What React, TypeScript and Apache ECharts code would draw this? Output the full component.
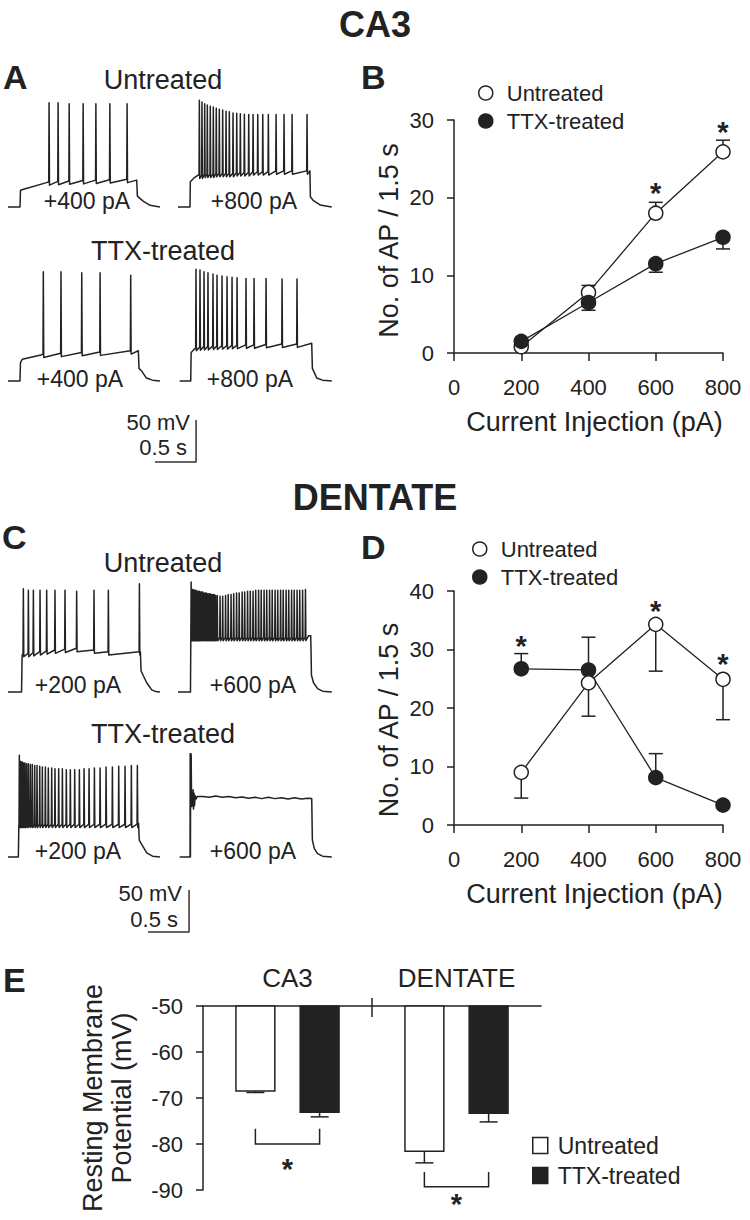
import React, { useEffect, useRef } from 'react';
import * as echarts from 'echarts';

const FONT = '"Liberation Sans", Arial, Helvetica, sans-serif';
const INK = '#222222';

// ---------- Panel B (CA3) : number of APs vs current ----------
const currentSteps = [200, 400, 600, 800];
const ca3Untreated = [0.8, 7.8, 18.0, 25.9];
const ca3UntreatedSem = [0.3, 0.9, 1.4, 1.5];
const ca3Ttx = [1.5, 6.5, 11.5, 14.9];
const ca3TtxSem = [0.3, 1.0, 1.1, 1.5];
const ca3Stars = [[600, 21.4], [800, 29.3]];

// ---------- Panel D (Dentate) ----------
const dgUntreated = [9.0, 24.3, 34.3, 24.9];
const dgUntreatedSem = [4.4, 5.7, 8.0, 6.9];
const dgTtx = [26.7, 26.5, 8.1, 3.4];
const dgTtxSem = [2.6, 5.6, 4.1, 0.4];
const dgStars = [[200, 31.8], [600, 37.8], [800, 28.7]];

// ---------- Panel E : resting membrane potential ----------
const rmpRegions = ['CA3', 'DENTATE'];
const rmpBaseline = -50;
const rmpUntreated = [-68.5, -81.6];
const rmpUntreatedSem = [0.3, 2.5];
const rmpTtx = [-73.1, -73.3];
const rmpTtxSem = [1.0, 1.9];
const rmpBracketTop = [-76.7, -86.1];
const rmpBracketBottom = [-80.0, -89.3];
const rmpStar = [-83.9, -91.7];

// ---------- Example traces (time ms, membrane potential mV) ----------
const ca3UntreatedTrace400 = {
  head: [[0, -70], [146, -70], [152, -50], [200, -48.5], [470, -41]],
  spikes: [500, 610, 745, 915, 1070, 1240, 1450],
  peaks: [54, 54, 53, 53, 53, 53, 53],
  troughs: [-40, -39.5, -39, -38.5, -38, -37.5, -37],
  tail: [[1567, -38], [1575, -57], [1645, -63], [1730, -68], [1850, -70]],
};
const ca3UntreatedTrace800 = {
  head: [[0, -70], [146, -70], [150, -40], [200, -35], [245, -32]],
  spikes: [260, 292, 325, 357, 393, 430, 466, 503, 544, 585, 625, 670, 715, 759, 808, 861, 914, 971, 1032, 1100, 1194, 1291, 1389, 1571],
  peaks: [57, 55, 53, 51.5, 50, 49, 47.5, 46.5, 45.5, 44, 43.5, 42, 41.5, 41, 40.5, 40, 40, 40, 40, 40, 40, 40, 40, 40],
  troughs: [-32, -32, -31, -31, -31, -31, -30, -30, -30, -30, -30, -30, -29, -29, -29, -29, -28, -28, -28, -28, -27, -27, -27, -27],
  tail: [[1606, -27], [1612, -58], [1645, -62], [1730, -67.5], [1872, -70]],
};
const ca3TtxTrace400 = {
  head: [[0, -70], [146, -70], [152, -48], [175, -44], [400, -39]],
  spikes: [430, 645, 898, 1121, 1494],
  peaks: [60, 60, 59, 59, 56],
  troughs: [-38, -37, -36, -35.5, -34],
  tail: [[1587, -34], [1595, -55], [1627, -58], [1685, -66.5], [1760, -69], [1850, -70]],
};
const ca3TtxTrace800 = {
  head: [[20, -70], [155, -70], [160, -36], [190, -33], [212, -31]],
  spikes: [219, 268, 317, 365, 426, 475, 536, 597, 658, 719, 828, 926, 1072, 1267, 1449],
  peaks: [63, 62, 60, 59, 57.5, 56, 55, 54, 53.5, 53, 52, 52, 52, 51.5, 51.5],
  troughs: [-30, -29.5, -29, -29, -28.5, -28.5, -28, -28, -27.5, -27.5, -27, -27, -26.5, -26, -26],
  tail: [[1628, -25], [1636, -55], [1660, -60], [1689, -66.5], [1760, -69], [1872, -70]],
};
const dgUntreatedTrace200 = {
  head: [[0, -70], [165, -70], [172, -26], [180, -25]],
  spikes: [187, 248, 309, 390, 471, 572, 694, 836, 1047, 1222, 1600],
  peaks: [53, 51, 51, 51, 51, 51, 51, 50, 51, 51, 59],
  troughs: [-24, -24, -23, -22, -21, -20, -19, -18, -20, -22, -22],
  tail: [[1612, -22], [1620, -45], [1689, -59], [1750, -67.5], [1800, -69.5], [1850, -70]],
};
const dgUntreatedTrace600 = {
  head: [[0, -70], [152, -70]],
  spikes: [160, 172, 184, 196, 208, 220, 233, 246, 259, 272, 286, 300, 314, 329, 344, 359, 375, 391, 407, 424, 441, 458,
    478, 512, 544, 579, 611, 646, 678, 713, 745, 781, 812, 847, 880, 914, 946, 981, 1013, 1048, 1080, 1115, 1147, 1182,
    1214, 1249, 1281, 1316, 1348, 1383, 1415, 1450, 1482, 1517, 1552],
  peaks: [61, 52, 52, 51, 51, 51, 50, 50, 50, 49, 49, 49, 48, 48, 48, 47, 47, 47, 46, 46, 46, 45,
    45, 44, 44, 45, 46, 46, 47, 48, 48, 49, 49, 50, 50, 50, 51, 51, 51, 51, 51, 51, 51, 51,
    51, 51, 51, 51, 51, 51, 51, 51, 51, 51, 52],
  troughs: -5,
  tail: [[1590, -3], [1616, -3], [1625, -50], [1650, -59], [1700, -66], [1760, -69], [1872, -70]],
};
const dgTtxTrace200 = {
  head: [[0, -70], [126, -70], [132, -32]],
  spikes: [138, 150, 162, 175, 191, 207, 227, 248, 272, 296, 325, 353, 386, 418, 455, 491, 532, 572, 617, 662, 710,
    759, 812, 869, 926, 987, 1052, 1121, 1194, 1271, 1348, 1425, 1502, 1575],
  peaks: [51, 44, 43, 43, 42, 42, 41, 41, 40, 40, 39, 39, 38, 37, 37, 36, 36, 35, 35, 35, 34,
    34, 34, 34, 35, 35, 36, 36, 37, 37, 38, 38, 39, 39],
  troughs: -31,
  tail: [[1590, -30], [1598, -50], [1628, -55], [1689, -65], [1760, -69], [1850, -70]],
};
// TTX-treated +600 pA: one spike at current onset, damped ringing, then a flat depolarised plateau
const dgTtxTrace600 = {
  head: [[20, -70], [150, -70], [152, 53], [160, 51], [166, -10], [174, 6]],
  spikes: [184, 196],
  peaks: [10, 6],
  troughs: [-9, -5],
  tail: [[210, 3], [220, -1], [234, 2], [300, 2], [380, 1], [460, 2.5],
    [540, 1], [620, 2], [700, 0.5], [780, 1.5], [860, 0], [940, 1], [1020, -0.5], [1100, 1], [1180, -0.5],
    [1260, 0.5], [1340, -1], [1420, 0.5], [1500, -1], [1580, 0], [1628, -0.5], [1636, -50], [1660, -60],
    [1700, -66], [1760, -69], [1872, -70]],
};
// the onset action potential of that trace, also drawn as its own stroke
const dgTtx600OnsetSpike = [[150, -70], [151, 53], [155, 53], [163, -8]];

const traces = [
  ca3UntreatedTrace400, ca3UntreatedTrace800, ca3TtxTrace400, ca3TtxTrace800,
  dgUntreatedTrace200, dgUntreatedTrace600, dgTtxTrace200, dgTtxTrace600,
];
const scaleBarMs = 500;
const scaleBarMv = 50;

// layout (pixels): trace frames span -80..+120 mV (0.84 px/mV) and 0..1875 ms (154 px)
const traceGridPos = [
  { left: 8, top: 47.4 }, { left: 178, top: 47.4 },
  { left: 8, top: 221.4 }, { left: 178, top: 221.4 },
  { left: 8, top: 532.4 }, { left: 178, top: 532.4 },
  { left: 8, top: 697.4 }, { left: 178, top: 697.4 },
];
const scaleGridPos = [{ left: 155, top: 420 }, { left: 148, top: 890 }];

type Trace = { head: number[][]; spikes: number[]; peaks: number[]; troughs: number[] | number; tail: number[][] };

function traceLine(tr: Trace) {
  const pts: number[][] = tr.head.map((p) => [p[0], p[1]]);
  tr.spikes.forEach((t, i) => {
    const tro = Array.isArray(tr.troughs) ? tr.troughs[i] : tr.troughs;
    pts.push([t - 4, tro]);
    pts.push([t, tr.peaks[i]]);
    pts.push([t + 5, tro - 4]);
  });
  tr.tail.forEach((p) => pts.push([p[0], p[1]]));
  return pts;
}

const axisCommon = {
  axisLine: { show: true, onZero: false, lineStyle: { color: INK, width: 1.5 } },
  axisTick: { show: true, length: 8, lineStyle: { color: INK, width: 1.5 } },
  splitLine: { show: false },
};

function errRender(dir: number) {
  return (params: any, api: any) => {
    const x = api.value(0);
    const y = api.value(1);
    const e = api.value(2);
    const p0 = api.coord([x, y]);
    const p1 = api.coord([x, y + dir * e]);
    return {
      type: 'group',
      children: [
        { type: 'line', shape: { x1: p0[0], y1: p0[1], x2: p1[0], y2: p1[1] }, style: { stroke: INK, lineWidth: 1.5 } },
        { type: 'line', shape: { x1: p1[0] - 7, y1: p1[1], x2: p1[0] + 7, y2: p1[1] }, style: { stroke: INK, lineWidth: 1.5 } },
      ],
    };
  };
}

// draws a polyline through data points given as [t, mV] (one item = one vertex)
function spikeRender(params: any, api: any) {
  if (params.dataIndex !== 0) return null;
  const pts = dgTtx600OnsetSpike.map((p) => api.coord(p));
  return { type: 'polyline', shape: { points: pts }, style: { stroke: INK, lineWidth: 1.6, fill: 'none' } };
}

const STAR_SIZE = 29;
function starEl(x: number, y: number) {
  return {
    type: 'text', x, y: y + STAR_SIZE * 0.23,
    style: { text: '*', fontSize: STAR_SIZE, fontWeight: 'bold', fontFamily: FONT, fill: INK, align: 'center', verticalAlign: 'middle' },
  };
}

function starRender(params: any, api: any) {
  const p = api.coord([api.value(0), api.value(1)]);
  return starEl(p[0], p[1]);
}

function barRender(side: number, fill: string) {
  return (params: any, api: any) => {
    const cat = api.value(0);
    const mean = api.value(1);
    const sem = api.value(2);
    const band = api.size([1, 0])[0];
    const base = api.coord([cat, rmpBaseline]);
    const cx = base[0] + side * band * 0.19;
    const w = band * 0.23;
    const yb = api.coord([cat, mean])[1];
    const ye = api.coord([cat, mean - sem])[1];
    return {
      type: 'group',
      children: [
        { type: 'line', shape: { x1: cx, y1: yb, x2: cx, y2: ye }, style: { stroke: INK, lineWidth: 1.5 } },
        { type: 'line', shape: { x1: cx - 9, y1: ye, x2: cx + 9, y2: ye }, style: { stroke: INK, lineWidth: 1.5 } },
        { type: 'rect', shape: { x: cx - w / 2, y: base[1], width: w, height: yb - base[1] }, style: { fill, stroke: INK, lineWidth: 1.5 } },
      ],
    };
  };
}

function sigRender(params: any, api: any) {
  const cat = api.value(0);
  const band = api.size([1, 0])[0];
  const c = api.coord([cat, api.value(1)]);
  const yBot = api.coord([cat, api.value(2)])[1];
  const yStar = api.coord([cat, api.value(3)])[1];
  const xL = c[0] - 0.19 * band;
  const xR = c[0] + 0.19 * band;
  const children: any[] = [
    { type: 'polyline', shape: { points: [[xL, c[1]], [xL, yBot], [xR, yBot], [xR, c[1]]] }, style: { stroke: INK, lineWidth: 1.5, fill: 'none' } },
    starEl(c[0], yStar),
  ];
  if (params.dataIndex === 0) {
    const yAxisTop = api.coord([cat, rmpBaseline])[1];
    const xs = c[0] + band / 2;
    children.push({ type: 'line', shape: { x1: xs, y1: yAxisTop - 8, x2: xs, y2: yAxisTop + 11 }, style: { stroke: INK, lineWidth: 1.5 } });
  }
  return { type: 'group', children };
}

function txt(text: string, x: number, y: number, size: number, opts: any = {}) {
  return {
    type: 'text',
    x,
    y,
    style: {
      text,
      fontSize: size,
      fontFamily: FONT,
      fontWeight: opts.bold ? 'bold' : 'normal',
      fill: INK,
      align: opts.align || 'center',
      verticalAlign: 'middle',
    },
  };
}

export default function App() {
  const ref = useRef<HTMLDivElement>(null);
  useEffect(() => {
    if (!ref.current) return;
    const chart = echarts.init(ref.current, null, { renderer: 'svg' });

    const grid: any[] = [];
    const xAxis: any[] = [];
    const yAxis: any[] = [];
    const series: any[] = [];

    traceGridPos.forEach((g, i) => {
      grid.push({ left: g.left, top: g.top, width: 154, height: 168 });
      xAxis.push({ gridIndex: i, type: 'value', min: 0, max: 1875, show: false });
      yAxis.push({ gridIndex: i, type: 'value', min: -80, max: 120, show: false });
      series.push({
        type: 'line', xAxisIndex: i, yAxisIndex: i, data: traceLine(traces[i] as Trace), showSymbol: false,
        symbol: 'none', clip: false, large: false, lineStyle: { color: INK, width: 1.5, join: 'round' }, silent: true, z: 3,
      });
    });
    // onset spike of the TTX-treated +600 pA dentate trace (grid 7)
    series.push({
      type: 'custom', xAxisIndex: 7, yAxisIndex: 7, z: 4, silent: true, clip: false,
      data: dgTtx600OnsetSpike, renderItem: spikeRender,
    });

    scaleGridPos.forEach((g, k) => {
      const i = 8 + k;
      grid.push({ left: g.left, top: g.top, width: 41.07, height: 42 });
      xAxis.push({ gridIndex: i, type: 'value', min: 0, max: scaleBarMs, show: false });
      yAxis.push({ gridIndex: i, type: 'value', min: 0, max: scaleBarMv, show: false });
      series.push({
        type: 'line', xAxisIndex: i, yAxisIndex: i, data: [[0, 0], [scaleBarMs, 0], [scaleBarMs, scaleBarMv]],
        showSymbol: false, symbol: 'none', clip: false, lineStyle: { color: '#333', width: 1.5 }, silent: true,
      });
    });

    // B and D
    const fiPanels = [
      { gi: 10, top: 120, height: 233, max: 30, u: ca3Untreated, us: ca3UntreatedSem, t: ca3Ttx, ts: ca3TtxSem, ud: 1, td: -1, stars: ca3Stars, uz: 3, tz: 4, namePad: [0, 8, 0, 0] },
      { gi: 11, top: 591, height: 234, max: 40, u: dgUntreated, us: dgUntreatedSem, t: dgTtx, ts: dgTtxSem, ud: -1, td: 1, stars: dgStars, uz: 4, tz: 3, namePad: [0, 24, 0, 0] },
    ];
    fiPanels.forEach((p) => {
      grid.push({ left: 454, top: p.top, width: 269, height: p.height });
      xAxis.push({
        gridIndex: p.gi, type: 'value', min: 0, max: 800, interval: 200, ...axisCommon,
        axisLabel: { fontSize: 22, color: INK, fontFamily: FONT, margin: 23 },
        name: 'Current Injection (pA)', nameLocation: 'middle', nameGap: 55,
        nameTextStyle: { fontSize: 27, color: INK, fontFamily: FONT, padding: [0, 0, 0, 12] },
      });
      yAxis.push({
        gridIndex: p.gi, type: 'value', min: 0, max: p.max, interval: 10, ...axisCommon,
        axisTick: { show: true, length: 7, lineStyle: { color: INK, width: 1.5 } },
        axisLabel: { fontSize: 22, color: INK, fontFamily: FONT, margin: 20 },
        name: 'No. of AP / 1.5 s', nameLocation: 'middle', nameGap: 52,
        nameTextStyle: { fontSize: 27, color: INK, fontFamily: FONT, padding: p.namePad },
      });
      const uData = currentSteps.map((c, i) => [c, p.u[i], p.us[i]]);
      const tData = currentSteps.map((c, i) => [c, p.t[i], p.ts[i]]);
      series.push({
        type: 'custom', xAxisIndex: p.gi, yAxisIndex: p.gi, z: 2, renderItem: errRender(p.ud), data: uData, silent: true,
      });
      series.push({
        type: 'custom', xAxisIndex: p.gi, yAxisIndex: p.gi, z: 2, renderItem: errRender(p.td), data: tData, silent: true,
      });
      series.push({
        name: 'Untreated', type: 'line', xAxisIndex: p.gi, yAxisIndex: p.gi, z: p.uz,
        data: currentSteps.map((c, i) => [c, p.u[i]]), symbol: 'circle', symbolSize: 14,
        lineStyle: { color: INK, width: 1.3 }, itemStyle: { color: '#ffffff', borderColor: INK, borderWidth: 1.5 },
      });
      series.push({
        name: 'TTX-treated', type: 'line', xAxisIndex: p.gi, yAxisIndex: p.gi, z: p.tz,
        data: currentSteps.map((c, i) => [c, p.t[i]]), symbol: 'circle', symbolSize: 14,
        lineStyle: { color: INK, width: 1.3 }, itemStyle: { color: INK, borderColor: INK, borderWidth: 1.5 },
      });
      series.push({
        type: 'custom', xAxisIndex: p.gi, yAxisIndex: p.gi, z: 6, renderItem: starRender, data: p.stars, silent: true,
      });
    });

    // E
    grid.push({ left: 203, top: 1006, width: 338, height: 184 });
    xAxis.push({
      gridIndex: 12, type: 'category', data: rmpRegions, position: 'top',
      axisLine: { show: true, onZero: false, lineStyle: { color: INK, width: 1.5 } },
      axisTick: { show: false },
      axisLabel: { fontSize: 26, color: INK, fontFamily: FONT, margin: 15 },
    });
    yAxis.push({
      gridIndex: 12, type: 'value', min: -90, max: -50, interval: 10, ...axisCommon,
      axisTick: { show: true, length: 7, lineStyle: { color: INK, width: 1.5 } },
      axisLabel: { fontSize: 22, color: INK, fontFamily: FONT, margin: 20 },
      name: 'Resting Membrane\nPotential (mV)', nameLocation: 'middle', nameGap: 67,
      nameTextStyle: { fontSize: 27, lineHeight: 29, color: INK, fontFamily: FONT },
    });
    series.push({
      name: 'E-Untreated', type: 'custom', xAxisIndex: 12, yAxisIndex: 12, renderItem: barRender(-1, '#ffffff'),
      encode: { x: 0, y: 1 }, data: rmpRegions.map((r, i) => [i, rmpUntreated[i], rmpUntreatedSem[i]]), silent: true,
    });
    series.push({
      name: 'E-TTX-treated', type: 'custom', xAxisIndex: 12, yAxisIndex: 12, renderItem: barRender(1, INK),
      encode: { x: 0, y: 1 }, data: rmpRegions.map((r, i) => [i, rmpTtx[i], rmpTtxSem[i]]), silent: true,
    });
    series.push({
      type: 'custom', xAxisIndex: 12, yAxisIndex: 12, renderItem: sigRender, encode: { x: 0, y: 1 },
      data: rmpRegions.map((r, i) => [i, rmpBracketTop[i], rmpBracketBottom[i], rmpStar[i]]), silent: true,
    });

    const circleLegend = (left: number, top: number) => ({
      left, top, orient: 'vertical', padding: 0, itemWidth: 14, itemHeight: 14, itemGap: 6, selectedMode: false,
      data: [
        { name: 'Untreated', icon: 'circle', itemStyle: { color: '#ffffff', borderColor: INK, borderWidth: 1.5 } },
        { name: 'TTX-treated', icon: 'circle', itemStyle: { color: INK, borderColor: INK, borderWidth: 1.5 } },
      ],
      textStyle: { fontSize: 22, lineHeight: 22, color: INK, fontFamily: FONT, padding: [0, 0, 0, 9] },
    });

    const graphicEls = [
      txt('CA3', 375, 24, 36, { bold: true }),
      txt('DENTATE', 375, 497, 36, { bold: true }),
      txt('A', 3, 77, 34, { bold: true, align: 'left' }),
      txt('B', 361, 77, 34, { bold: true, align: 'left' }),
      txt('C', 2, 537, 34, { bold: true, align: 'left' }),
      txt('D', 361, 547, 34, { bold: true, align: 'left' }),
      txt('E', 3, 980, 34, { bold: true, align: 'left' }),
      txt('Untreated', 163, 80, 27),
      txt('TTX-treated', 163, 251, 27),
      txt('Untreated', 163, 563, 27),
      txt('TTX-treated', 163, 734, 27),
      txt('+400 pA', 87, 201, 23),
      txt('+800 pA', 254, 201, 23),
      txt('+400 pA', 80, 379, 23),
      txt('+800 pA', 250, 379, 23),
      txt('+200 pA', 78, 685, 23),
      txt('+600 pA', 253, 685, 23),
      txt('+200 pA', 78, 851, 23),
      txt('+600 pA', 253, 851, 23),
      txt('50 mV', 190, 422, 22, { align: 'right' }),
      txt('0.5 s', 187, 447, 22, { align: 'right' }),
      txt('50 mV', 182, 893, 22, { align: 'right' }),
      txt('0.5 s', 178, 919, 22, { align: 'right' }),
    ];

    chart.setOption({
      animation: false,
      backgroundColor: '#ffffff',
      textStyle: { fontFamily: FONT },
      grid,
      xAxis,
      yAxis,
      series,
      legend: [
        circleLegend(478, 82),
        circleLegend(472, 538),
        {
          left: 532, top: 1134, orient: 'vertical', padding: 0, itemWidth: 15, itemHeight: 16, itemGap: 7, selectedMode: false,
          data: [
            { name: 'E-Untreated', icon: 'rect', itemStyle: { color: '#ffffff', borderColor: INK, borderWidth: 1.5 } },
            { name: 'E-TTX-treated', icon: 'rect', itemStyle: { color: INK, borderColor: INK, borderWidth: 1.5 } },
          ],
          formatter: (n: string) => n.replace('E-', ''),
          textStyle: { fontSize: 23, lineHeight: 23, color: INK, fontFamily: FONT, padding: [0, 0, 0, 5] },
        },
      ],
      graphic: { elements: graphicEls },
    });
    return () => chart.dispose();
  }, []);
  return (
    <div
      ref={ref}
      style={{ position: 'absolute', left: 0, top: 0, width: 750, height: 1220, background: '#fff' }}
    />
  );
}
